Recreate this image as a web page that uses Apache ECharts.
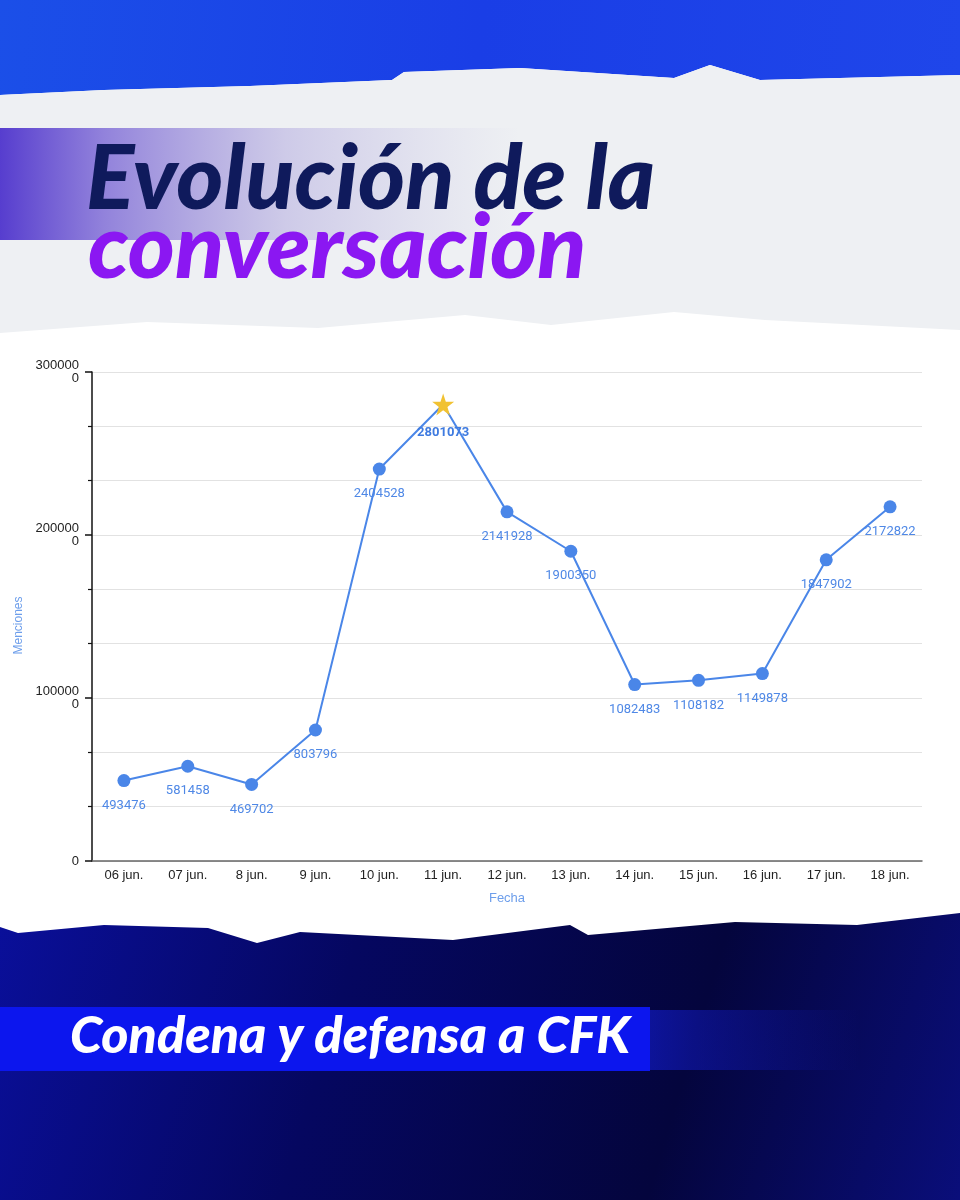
<!DOCTYPE html>
<html>
<head>
<meta charset="utf-8">
<script src="https://cdn.jsdelivr.net/npm/echarts@6/dist/echarts.min.js"></script>
<style>
html,body{margin:0;padding:0;background:#fff;}
#c{width:960px;height:1200px;}
</style>
</head>
<body>
<div id="c"></div>
<script>
// ---- data ----
const categories = ['06 jun.', '07 jun.', '8 jun.', '9 jun.', '10 jun.', '11 jun.', '12 jun.', '13 jun.', '14 jun.', '15 jun.', '16 jun.', '17 jun.', '18 jun.'];
const menciones = [493476, 581458, 469702, 803796, 2404528, 2801073, 2141928, 1900350, 1082483, 1108182, 1149878, 1847902, 2172822];
const titleLine1 = 'Evolución de la';
const titleLine2 = 'conversación';
const subtitle = 'Condena y defensa a CFK';
const xAxisName = 'Fecha';
const yAxisName = 'Menciones';

const peakIndex = menciones.indexOf(Math.max(...menciones));
const seriesData = menciones.map((v, i) => i === peakIndex ? {
  value: v,
  symbol: 'path://M50,0 L61.8,35.4 L99,35.4 L69,57.3 L80.4,92.7 L50,70.8 L19.6,92.7 L31,57.3 L1,35.4 L38.2,35.4 Z',
  symbolSize: 22,
  itemStyle: {color: '#f1c232'},
  label: {fontWeight: 'bold', color: '#3f7be0', distance: 11}
} : v);

function yLabel(v) {
  if (Math.abs(v % 1000000) > 1) return '';
  const s = String(Math.round(v));
  return s.length > 6 ? s.slice(0, 6) + '\n' + s.slice(6) : s;
}

const chart = echarts.init(document.getElementById('c'), null, {renderer: 'canvas'});

const bgGraphics = [
  // top blue band
  {type: 'polygon', z: -100, shape: {points: [[0,0],[960,0],[960,75],[760,80],[710,65],[674,78],[520,68],[404,72],[392,80],[250,86],[104,90],[0,95]]},
   style: {fill: new echarts.graphic.LinearGradient(0,0,1,1,[{offset:0,color:'#1b4fe8'},{offset:0.5,color:'#1a3ee6'},{offset:1,color:'#1f46ea'}])}},
  // paper
  {type: 'polygon', z: -100, shape: {points: [[0,95],[104,90],[250,86],[392,80],[404,72],[520,68],[674,78],[710,65],[760,80],[960,75],[960,330],[765,320],[674,312],[551,325],[465,315],[318,328],[147,322],[0,333]]},
   style: {fill: '#eef0f3'}},
  // stipple band behind title
  {type: 'rect', z: -99, shape: {x: 0, y: 128, width: 520, height: 112},
   style: {fill: new echarts.graphic.LinearGradient(0,0,1,0,[{offset:0,color:'rgba(60,30,200,0.85)'},{offset:0.2,color:'rgba(70,40,200,0.55)'},{offset:0.55,color:'rgba(110,90,200,0.25)'},{offset:1,color:'rgba(140,130,210,0)'}])}},
  // bottom dark
  {type: 'polygon', z: -100, shape: {points: [[0,927],[18,933],[104,925],[208,928],[257,943],[300,932],[453,940],[570,925],[588,935],[735,922],[857,925],[960,913],[960,1200],[0,1200]]},
   style: {fill: new echarts.graphic.LinearGradient(0,0,1,1,[{offset:0,color:'#0a0f9a'},{offset:0.35,color:'#050760'},{offset:0.7,color:'#04053d'},{offset:1,color:'#0a0e7a'}])}},
  // banner extension
  {type: 'rect', z: -99, shape: {x: 600, y: 1010, width: 260, height: 60},
   style: {fill: new echarts.graphic.LinearGradient(0,0,1,0,[{offset:0,color:'rgba(20,30,220,0.7)'},{offset:1,color:'rgba(20,30,220,0)'}])}},
  // banner
  {type: 'rect', z: -98, shape: {x: 0, y: 1007, width: 650, height: 64}, style: {fill: '#0c16ee'}},
  // titles
  {type: 'text', z: 10, left: 86, top: 135, style: {text: titleLine1, fill: '#0f1a5c', font: 'italic 900 90px Lato'}},
  {type: 'text', z: 10, left: 88, top: 204, style: {text: titleLine2, fill: '#8b17f2', font: 'italic 900 90px Lato'}},
  {type: 'text', z: 10, left: 70, top: 1010, style: {text: subtitle, fill: '#ffffff', font: 'italic 900 52px Lato'}}
];

chart.setOption({
  animation: false,
  backgroundColor: '#ffffff',
  graphic: bgGraphics,
  grid: {left: 92, right: 38, top: 372, bottom: 339, containLabel: false},
  xAxis: {
    type: 'category',
    data: categories,
    boundaryGap: true,
    name: xAxisName,
    nameLocation: 'middle',
    nameGap: 31,
    nameTextStyle: {color: '#6d9eeb', fontSize: 13, fontFamily: 'Liberation Sans'},
    axisLine: {lineStyle: {color: '#666', width: 1.5}},
    axisTick: {show: false},
    axisLabel: {color: '#222', fontSize: 13, fontFamily: 'Liberation Sans', margin: 8, interval: 0}
  },
  yAxis: {
    type: 'value',
    min: 0,
    max: 3000000,
    interval: 1000000,
    name: yAxisName,
    nameLocation: 'middle',
    nameGap: 52,
    nameRotate: 90,
    nameTextStyle: {color: '#6d9eeb', fontSize: 12, fontFamily: 'Liberation Sans', padding: [0, 18, 0, 0]},
    axisLine: {show: true, lineStyle: {color: '#111', width: 1.5}},
    axisTick: {show: true, length: 7, lineStyle: {color: '#111', width: 1.5}},
    minorTick: {show: true, splitNumber: 3, length: 4, lineStyle: {color: '#111', width: 1.2}},
    splitLine: {show: true, lineStyle: {color: '#e2e2e2', width: 1}},
    minorSplitLine: {show: true, lineStyle: {color: '#e2e2e2', width: 1}},
    axisLabel: {color: '#222', fontSize: 13, fontFamily: 'Liberation Sans', margin: 13, lineHeight: 13, formatter: yLabel}
  },
  series: [{
    type: 'line',
    data: seriesData,
    symbol: 'circle',
    symbolSize: 13,
    lineStyle: {color: '#4a86e8', width: 2},
    itemStyle: {color: '#4a86e8'},
    label: {show: true, position: 'bottom', distance: 12, color: '#4f88e6', fontSize: 13, fontFamily: 'Roboto'},
    z: 5
  }]
});
</script>
</body>
</html>
